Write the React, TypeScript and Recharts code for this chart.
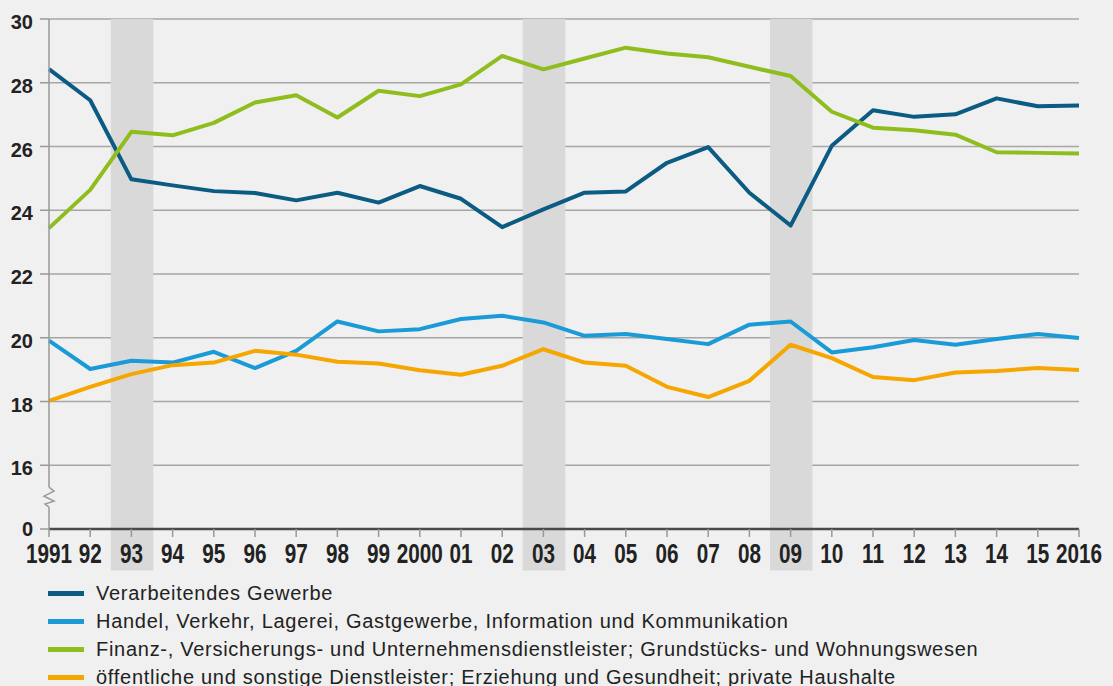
import React from "react";
import {
  LineChart,
  Line,
  XAxis,
  YAxis,
  CartesianGrid,
  ReferenceArea,
  ReferenceDot,
  Legend,
} from "recharts";

const years = [
  1991, 1992, 1993, 1994, 1995, 1996, 1997, 1998, 1999, 2000, 2001, 2002, 2003,
  2004, 2005, 2006, 2007, 2008, 2009, 2010, 2011, 2012, 2013, 2014, 2015, 2016,
];

const verarbeitendes = [
  28.43, 27.45, 24.97, 24.78, 24.6, 24.54, 24.31, 24.55, 24.24, 24.76, 24.36,
  23.47, 24.03, 24.55, 24.59, 25.49, 25.98, 24.55, 23.52, 26.02, 27.14, 26.93,
  27.01, 27.51, 27.26, 27.29,
];
const handel = [
  19.91, 19.02, 19.28, 19.22, 19.56, 19.05, 19.59, 20.51, 20.2, 20.27, 20.59,
  20.69, 20.48, 20.06, 20.12, 19.96, 19.8, 20.41, 20.51, 19.54, 19.7, 19.93,
  19.78, 19.96, 20.12, 19.99,
];
const finanz = [
  23.44, 24.64, 26.46, 26.35, 26.74, 27.38, 27.61, 26.91, 27.75, 27.58, 27.95,
  28.84, 28.42, 28.76, 29.1, 28.92, 28.8, 28.5, 28.21, 27.09, 26.59, 26.51,
  26.37, 25.82, 25.8, 25.78,
];
const oeffentlich = [
  18.02, 18.46, 18.86, 19.14, 19.22, 19.59, 19.47, 19.25, 19.19, 18.98, 18.84,
  19.12, 19.64, 19.22, 19.12, 18.46, 18.14, 18.65, 19.78, 19.36, 18.77, 18.67,
  18.91, 18.96, 19.05, 18.99,
];

const yTicks = [14, 16, 18, 20, 22, 24, 26, 28, 30];
const bandYears = [1993, 2003, 2009];

const seriesNames = [
  "Verarbeitendes Gewerbe",
  "Handel, Verkehr, Lagerei, Gastgewerbe, Information und Kommunikation",
  "Finanz-, Versicherungs- und Unternehmensdienstleister; Grundstücks- und Wohnungswesen",
  "öffentliche und sonstige Dienstleister; Erziehung und Gesundheit; private Haushalte",
];
const seriesKeys = ["verarbeitendes", "handel", "finanz", "oeffentlich"];
const seriesColors = ["#0b5b82", "#1a9bd7", "#8fbd1e", "#f5a600"];

const data = years.map((year, i) => ({
  year,
  verarbeitendes: verarbeitendes[i],
  handel: handel[i],
  finanz: finanz[i],
  oeffentlich: oeffentlich[i],
}));

const BG = "#f0f0f0";
const FONT = "'Liberation Sans', Arial, Helvetica, sans-serif";

const xLabel = (v: number) =>
  v === 1991 || v === 2000 || v === 2016 ? String(v) : String(v).slice(2);

const XTick = (props: any) => {
  const { x, y, payload } = props;
  return (
    <g transform={`translate(${x},${y})`}>
      <text
        transform="scale(0.74,1)"
        textAnchor="middle"
        dy={24}
        fontFamily={FONT}
        fontWeight="bold"
        fontSize={28}
        fill="#222"
      >
        {xLabel(payload.value)}
      </text>
    </g>
  );
};

const YTick = (props: any) => {
  const { x, y, payload } = props;
  return (
    <text
      x={x}
      y={y}
      dy={payload.value === 14 ? 7 : 10}
      textAnchor="end"
      fontFamily={FONT}
      fontWeight="bold"
      fontSize={20}
      fill="#222"
    >
      {payload.value === 14 ? "0" : payload.value}
    </text>
  );
};

const BreakMark = (props: any) => {
  const { cx, cy } = props;
  return (
    <g>
      <rect x={cx - 3} y={cy - 10} width={6} height={20} fill={BG} />
      <polyline
        points={`${cx},${cy - 10} ${cx + 5},${cy - 6} ${cx - 5},${cy - 1} ${cx + 5},${cy + 4} ${cx - 4},${cy + 7} ${cx},${cy + 10}`}
        fill="none"
        stroke="#999"
        strokeWidth={1.5}
      />
    </g>
  );
};

const LegendContent = () => (
  <div style={{ fontFamily: FONT, fontSize: 20, color: "#222" }}>
    {seriesNames.map((name, i) => (
      <div
        key={name}
        style={{ display: "flex", alignItems: "center", height: 28, whiteSpace: "nowrap" }}
      >
        <span
          style={{
            display: "inline-block",
            width: 36,
            height: 5,
            marginLeft: 48,
            marginRight: 12,
            background: seriesColors[i],
          }}
        />
        <span style={{ letterSpacing: 0.72 }}>{name}</span>
      </div>
    ))}
  </div>
);

export default function App() {
  return (
    <div
      style={{
        position: "absolute",
        left: 0,
        top: 0,
        width: 1113,
        height: 686,
        background: BG,
        overflow: "hidden",
      }}
    >
      <LineChart
        width={1113}
        height={686}
        data={data}
        margin={{ top: 19, right: 34, left: 0, bottom: 127 }}
      >
        {bandYears.map((y) => (
          <ReferenceArea
            key={y}
            x1={y - 0.5}
            x2={y + 0.53}
            y1={12.7}
            y2={30}
            fill="#d9d9d9"
            fillOpacity={1}
            stroke="none"
            ifOverflow="visible"
          />
        ))}
        <CartesianGrid vertical={false} stroke="#a6a6a6" strokeWidth={1.5} />
        <XAxis
          dataKey="year"
          type="number"
          domain={[1991, 2016]}
          ticks={years}
          interval={0}
          height={30}
          axisLine={{ stroke: "#4a4a4a", strokeWidth: 2.5 }}
          tickLine={{ stroke: "#999", strokeWidth: 1.5 }}
          tickSize={8}
          tick={<XTick />}
        />
        <YAxis
          domain={[14, 30]}
          ticks={yTicks}
          width={49}
          interval={0}
          axisLine={{ stroke: "#999", strokeWidth: 1.5 }}
          tickLine={{ stroke: "#999", strokeWidth: 1.5 }}
          tickSize={9}
          tickMargin={7}
          tick={<YTick />}
        />
        <ReferenceDot
          x={1991}
          y={15}
          r={0}
          ifOverflow="visible"
          shape={<BreakMark />}
        />
        {seriesKeys.map((k, i) => (
          <Line
            key={k}
            dataKey={k}
            name={seriesNames[i]}
            stroke={seriesColors[i]}
            strokeWidth={4}
            dot={false}
            activeDot={false}
            isAnimationActive={false}
            strokeLinejoin="round"
          />
        ))}
        <Legend
          layout="horizontal"
          verticalAlign="middle"
          align="center"
          content={<LegendContent />}
          wrapperStyle={{ top: 579, left: 0, bottom: "auto", width: 1113 }}
        />
      </LineChart>
    </div>
  );
}
